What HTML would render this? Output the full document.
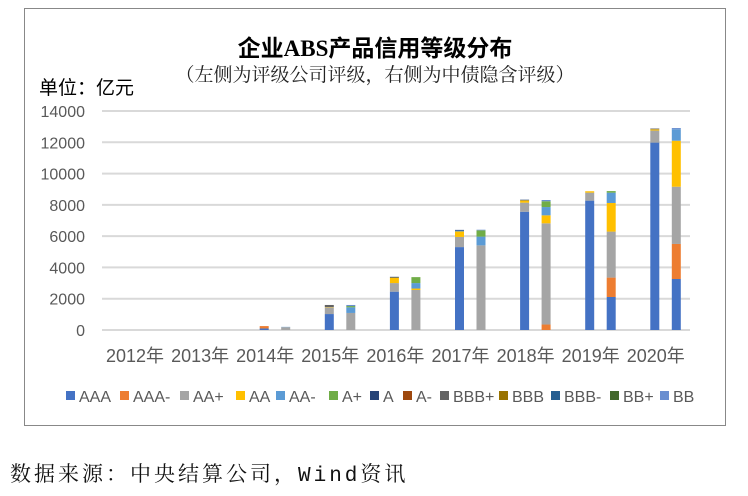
<!DOCTYPE html>
<html><head><meta charset="utf-8"><style>
body{margin:0;background:#fff;width:748px;height:496px;overflow:hidden;position:relative;font-family:"Liberation Sans","Noto Sans CJK SC",sans-serif}
#frame{position:absolute;left:24px;top:8px;width:702px;height:418px;border:1px solid #888;box-sizing:border-box}
.t{position:absolute;white-space:nowrap}
</style></head><body>
<div id="frame"></div>
<div class="t" style="left:0;width:750px;text-align:center;top:29px;font-size:23px;font-weight:bold;color:#000;font-family:'Liberation Serif','Noto Sans CJK SC',serif">企业ABS产品信用等级分布</div>
<div class="t" style="left:0;width:750px;text-align:center;top:60px;font-size:19px;color:#222;font-family:'Liberation Serif','Noto Serif CJK SC',serif">（左侧为评级公司评级，右侧为中债隐含评级）</div>
<div class="t" style="left:39px;top:73px;font-size:19px;color:#000">单位：亿元</div>
<svg id="chart" width="748" height="440" style="position:absolute;left:0;top:0"></svg>
<div class="t" style="left:10px;top:458px;font-size:21px;letter-spacing:3px;color:#111;font-family:'Liberation Mono','Noto Serif CJK SC',monospace">数据来源：中央结算公司，Wind资讯</div>
<script>
const years=["2012年","2013年","2014年","2015年","2016年","2017年","2018年","2019年","2020年"];
const ratings=["AAA","AAA-","AA+","AA","AA-","A+","A","A-","BBB+","BBB","BBB-","BB+","BB"];
const colors=["#4472C4","#ED7D31","#A5A5A5","#FFC000","#5B9BD5","#70AD47","#264478","#9E480E","#636363","#997300","#255E91","#43682B","#698ED0"];
const companyAAA=[0,0,100,1020,2450,5300,7560,8270,11980];
const companyAAAm=[0,0,150,0,0,0,0,0,0];
const companyAAp=[0,0,0,430,550,650,580,510,770];
const companyAA=[0,0,0,20,350,350,150,90,80];
const companyAAm=[0,0,0,0,0,60,0,0,0];
const companyAp=[0,0,0,0,0,0,0,0,0];
const companyA=[0,0,0,0,50,40,40,0,0];
const companyBBBp=[0,0,0,130,0,0,0,0,50];
const zeros=[0,0,0,0,0,0,0,0,0];
const company=[companyAAA,companyAAAm,companyAAp,companyAA,companyAAm,companyAp,companyA,zeros,companyBBBp,zeros,zeros,zeros,zeros];
const impliedAAA=[0,0,0,0,0,0,0,2110,3260];
const impliedAAAm=[0,0,0,0,0,0,350,1240,2240];
const impliedAAp=[0,0,180,1090,2560,5410,6470,2940,3660];
const impliedAA=[0,0,0,0,90,0,510,1830,2940];
const impliedAAm=[0,0,20,360,350,560,530,660,730];
const impliedAp=[0,0,0,80,380,400,370,100,0];
const impliedBB=[0,0,0,70,0,40,80,0,80];
const implied=[impliedAAA,impliedAAAm,impliedAAp,impliedAA,impliedAAm,impliedAp,zeros,zeros,zeros,zeros,zeros,zeros,impliedBB];
const yTicks=[0,2000,4000,6000,8000,10000,12000,14000];

const svg=document.getElementById('chart');const NS="http://www.w3.org/2000/svg";
const y0=330,yTop=111,yMax=14000;
const yS=v=>y0-(v/yMax)*(y0-yTop);
const xS=i=>134+i*65.1;
function mk(t,a){const e=document.createElementNS(NS,t);for(const k in a)e.setAttribute(k,a[k]);svg.appendChild(e);return e;}
yTicks.forEach(v=>{
  const l=mk('line',{x1:102,x2:690,y1:yS(v),y2:yS(v),stroke:'#d9d9d9','stroke-width':2});
  
  
  const t=mk('text',{x:85,y:yS(v)+6,'text-anchor':'end','font-size':16,fill:'#595959','font-family':'Liberation Sans, sans-serif'});
  t.textContent=v;
  
  
});
years.forEach((yr,i)=>{
  const t=mk('text',{x:xS(i)+1,y:362,'text-anchor':'middle','font-size':18,fill:'#595959','font-family':'Liberation Sans, Noto Sans CJK SC, sans-serif'});
  t.textContent=yr;
  
  
  [[company,0],[implied,21.5]].forEach(([set,off])=>{
    let cum=0;
    set.forEach((ser,k)=>{
      const v=ser[i];if(!v)return;
      const r=mk('rect',{x:xS(i)+off-4.5,y:yS(cum+v),width:9,height:yS(cum)-yS(cum+v),fill:colors[k]});
      
      
      cum+=v;
    });
  });
});
const legendX=[66,120,180,236,276,329,370,403,440,499,551,610,660];
ratings.forEach((r,k)=>{
  const s=mk('rect',{x:legendX[k],y:391,width:9,height:9,fill:colors[k]});
  
  
  const t=mk('text',{x:legendX[k]+13,y:402,'font-size':16,fill:'#595959','font-family':'Liberation Sans, sans-serif'});
  t.textContent=r;
  
  
});
</script>
</body></html>
